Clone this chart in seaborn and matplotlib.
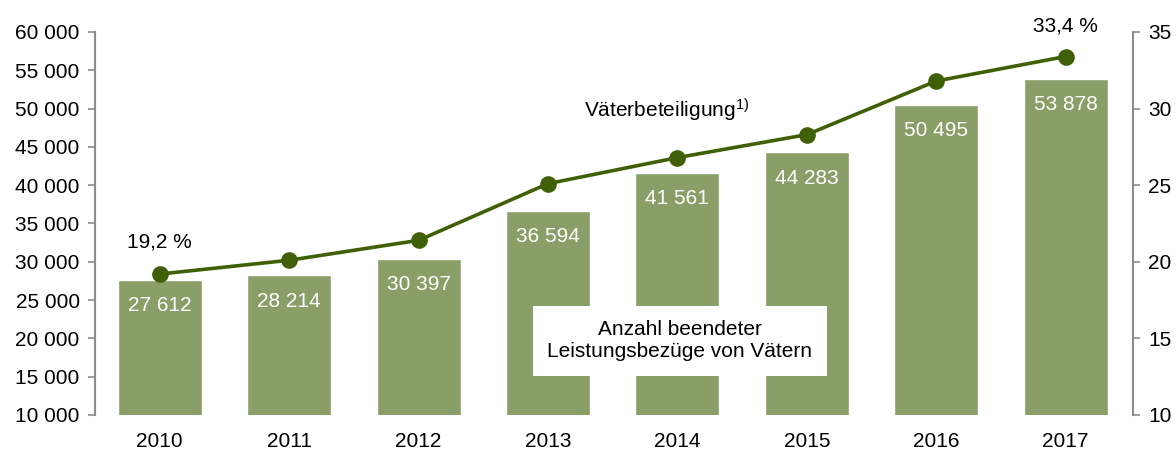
import matplotlib
matplotlib.use("Agg")
import matplotlib.pyplot as plt
import numpy as np
import pandas as pd
import seaborn as sns
from matplotlib.ticker import FuncFormatter

# Data
years = ["2010", "2011", "2012", "2013", "2014", "2015", "2016", "2017"]
leistungsbezuege = [27612, 28214, 30397, 36594, 41561, 44283, 50495, 53878]
vaeterbeteiligung = [19.2, 20.1, 21.4, 25.1, 26.8, 28.3, 31.8, 33.4]

bar_color = "#8a9e68"
line_color = "#3f6006"
axis_gray = "#8c8c8c"
fs = 15

sns.set_theme(style="white")
plt.rcParams["font.family"] = ["Liberation Sans", "DejaVu Sans"]
plt.rcParams["text.color"] = "black"
plt.rcParams["mathtext.fontset"] = "custom"
plt.rcParams["mathtext.rm"] = "Liberation Sans"
plt.rcParams["mathtext.it"] = "Liberation Sans"

df = pd.DataFrame({"year": years, "count": leistungsbezuege, "share": vaeterbeteiligung})
df["pos"] = np.arange(len(df))


def thousands(v, _):
    return f"{int(v):,}".replace(",", " ")


fig = plt.figure(figsize=(11.76, 4.5), dpi=100)
ax = fig.add_axes([0.0808, 0.0778, 0.8826, 0.8511])

sns.barplot(data=df, x="year", y="count", color=bar_color, width=0.65,
            saturation=1, ax=ax, zorder=2)
ax.set_ylim(10000, 60000)
ax.set_xlim(-0.5, 7.52)
ax.set_yticks(np.arange(10000, 60001, 5000))
ax.yaxis.set_major_formatter(FuncFormatter(thousands))
ax.set_xlabel("")
ax.set_ylabel("")

# value labels inside the bars
for i, v in enumerate(leistungsbezuege):
    ax.annotate(thousands(v, None), (i, v), xytext=(0, -18.5), textcoords="offset points",
                ha="center", va="center", color="white", fontsize=fs, zorder=4)

ax.text(4.02, 19700, "Anzahl beendeter\nLeistungsbezüge von Vätern", ha="center",
        va="center", fontsize=fs, color="black", linespacing=1.2, zorder=5,
        bbox=dict(boxstyle="square,pad=0.7", facecolor="white", edgecolor="none"))

ax2 = ax.twinx()
sns.lineplot(data=df, x="pos", y="share", color=line_color, linewidth=2.6,
             marker="o", markersize=12, markeredgewidth=0, ax=ax2)
ax2.set_ylim(10, 35)
ax2.set_yticks(np.arange(10, 36, 5))
ax2.set_xlabel("")
ax2.set_ylabel("")

ax2.annotate("19,2 %", (0, vaeterbeteiligung[0]), xytext=(0, 23), textcoords="offset points",
             ha="center", va="center", fontsize=fs, color="black")
ax2.annotate("33,4 %", (7, vaeterbeteiligung[-1]), xytext=(0, 22), textcoords="offset points",
             ha="center", va="center", fontsize=fs, color="black")
ax2.text(3.92, 29.9, "Väterbeteiligung$^{1)}$", ha="center", va="center", fontsize=fs,
         color="black")

for a in (ax, ax2):
    for s in ("top", "bottom"):
        a.spines[s].set_visible(False)
    a.tick_params(axis="y", labelsize=fs, length=5, width=1.2, color=axis_gray,
                  direction="out", pad=6, labelcolor="black")
ax.spines["left"].set_color(axis_gray)
ax.spines["left"].set_linewidth(1.5)
ax.spines["right"].set_visible(False)
ax2.spines["left"].set_visible(False)
ax2.spines["right"].set_color(axis_gray)
ax2.spines["right"].set_linewidth(1.5)
ax.tick_params(axis="x", labelsize=fs, length=0, pad=12, labelcolor="black")
ax.tick_params(axis="y", left=True)
ax2.tick_params(axis="y", right=True)

fig.savefig("out.png", dpi=100)
